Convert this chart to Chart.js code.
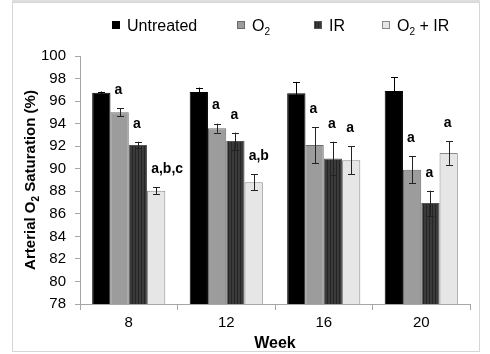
<!DOCTYPE html>
<html>
<head>
<meta charset="utf-8">
<script src="https://cdn.jsdelivr.net/npm/chart.js@4"></script>
<style>
  body { margin: 0; background: #fff; }
  canvas { display: block; }
</style>
</head>
<body>
<canvas id="grafico" width="490" height="354"></canvas>
<script>
// ---------------- Dados -------------------------------------------------------
const semanas = ["8", "12", "16", "20"];
const nomesSeries = ["Untreated", "O2", "IR", "O2 + IR"];

const untreated = [96.75, 96.8, 96.7, 96.9];
const o2 = [95.0, 93.6, 92.1, 89.9];
const ir = [92.1, 92.45, 90.9, 86.95];
const o2ir = [88.05, 88.8, 90.75, 91.4];

const untreatedErr = [0.1, 0.4, 1.0, 1.2];
const o2Err = [0.35, 0.4, 1.6, 1.2];
const irErr = [0.3, 0.75, 1.5, 1.1];
const o2irErr = [0.3, 0.7, 1.25, 1.05];

// letras de significância acima das barras
const untreatedSig = ["", "", "", ""];
const o2Sig = ["a", "a", "a", "a"];
const irSig = ["a", "a", "a", "a"];
const o2irSig = ["a,b,c", "a,b", "a", "a"];

const yMin = 78, yMax = 100, yStep = 2;
const tituloY = "Arterial O2 Saturation (%)";
const tituloX = "Week";

const fonte = "'Liberation Sans', Arial, sans-serif";

// ---------------- Padrão listrado (IR) ---------------------------------------
function padraoListras() {
    const c = document.createElement("canvas");
    c.width = 3; c.height = 3;
    const g = c.getContext("2d");
    g.fillStyle = "#3a3a3a";
    g.fillRect(0, 0, 3, 3);
    g.fillStyle = "#252525";
    g.fillRect(0, 0, 1, 3);
    return g.createPattern(c, "repeat");
}

// texto com "O2" subscrito
function medirRico(ctx, texto, tam, peso) {
    let w = 0;
    for (let i = 0; i < texto.length; i++) {
        const sub = texto[i] === "2" && texto[i - 1] === "O";
        ctx.font = `${peso} ${sub ? Math.round(tam * 0.65) : tam}px ${fonte}`;
        w += ctx.measureText(texto[i]).width;
    }
    return w;
}
function desenharRico(ctx, texto, x, y, tam, peso) {
    ctx.textAlign = "left";
    ctx.textBaseline = "alphabetic";
    for (let i = 0; i < texto.length; i++) {
        const sub = texto[i] === "2" && texto[i - 1] === "O";
        ctx.font = `${peso} ${sub ? Math.round(tam * 0.65) : tam}px ${fonte}`;
        ctx.fillText(texto[i], x, sub ? y + tam * 0.28 : y);
        x += ctx.measureText(texto[i]).width;
    }
}

const erros = [untreatedErr, o2Err, irErr, o2irErr];
const sigs = [untreatedSig, o2Sig, irSig, o2irSig];

// ---------------- Plugin: moldura, legenda, título Y, barras de erro ---------
const pluginExtras = {
    id: "extras",
    beforeDraw(chart) {
        const ctx = chart.ctx;
        ctx.save();
        ctx.fillStyle = "#fff";
        ctx.fillRect(0, 0, chart.width, chart.height);
        ctx.fillStyle = "#dedede";
        ctx.fillRect(12, 0, 468, 3);
        ctx.strokeStyle = "#d6d6d6";
        ctx.lineWidth = 1;
        ctx.strokeRect(12.5, 2.5, 467, 349);
        ctx.restore();
    },
    afterDatasetsDraw(chart) {
        const ctx = chart.ctx;
        const yScale = chart.scales.y;
        ctx.save();
        chart.data.datasets.forEach((ds, d) => {
            const meta = chart.getDatasetMeta(d);
            meta.data.forEach((bar, i) => {
                const v = ds.data[i], e = erros[d][i];
                const yTop = yScale.getPixelForValue(v + e);
                const yBot = yScale.getPixelForValue(v - e);
                const x = Math.round(bar.x) + 0.5;
                ctx.strokeStyle = d === 0 ? "#000" : "#222";
                ctx.lineWidth = 1;
                ctx.beginPath();
                ctx.moveTo(x, yTop); ctx.lineTo(x, yBot);
                ctx.moveTo(x - 3.5, Math.round(yTop) + 0.5); ctx.lineTo(x + 3.5, Math.round(yTop) + 0.5);
                ctx.moveTo(x - 3.5, Math.round(yBot) + 0.5); ctx.lineTo(x + 3.5, Math.round(yBot) + 0.5);
                ctx.stroke();

                const s = sigs[d][i];
                if (s) {
                    ctx.fillStyle = "#000";
                    ctx.font = `bold 14px ${fonte}`;
                    ctx.textAlign = "left";
                    ctx.textBaseline = "middle";
                    ctx.fillText(s, bar.x - 5, yTop - 18);
                }
            });
        });
        ctx.restore();
    },
    afterDraw(chart) {
        const ctx = chart.ctx;
        ctx.save();
        // legenda
        const caixasX = [112, 237, 314, 382];
        chart.data.datasets.forEach((ds, d) => {
            const bx = caixasX[d];
            ctx.fillStyle = ds.backgroundColor;
            ctx.fillRect(bx, 21, 8, 8);
            ctx.strokeStyle = ds.borderColor;
            ctx.lineWidth = 1;
            ctx.strokeRect(bx + 0.5, 21.5, 7, 7);
            ctx.fillStyle = "#000";
            desenharRico(ctx, ds.label, bx + 15, 31, 16, "normal");
        });
        // título do eixo Y
        const area = chart.chartArea;
        const w = medirRico(ctx, tituloY, 15, "bold");
        ctx.translate(35, (area.top + area.bottom) / 2);
        ctx.rotate(-Math.PI / 2);
        ctx.fillStyle = "#000";
        desenharRico(ctx, tituloY, -w / 2, 0, 15, "bold");
        ctx.restore();
    }
};

const eixoCor = "#a6a6a6";

new Chart(document.getElementById("grafico"), {
    type: "bar",
    data: {
        labels: semanas,
        datasets: [
            { label: nomesSeries[0], data: untreated, backgroundColor: "#000000", borderColor: "#000000" },
            { label: nomesSeries[1], data: o2, backgroundColor: "#9c9c9c", borderColor: "#6a6a6a" },
            { label: nomesSeries[2], data: ir, backgroundColor: padraoListras(), borderColor: "#555555" },
            { label: nomesSeries[3], data: o2ir, backgroundColor: "#e6e6e6", borderColor: "#8a8a8a" },
        ],
    },
    options: {
        responsive: false,
        animation: false,
        devicePixelRatio: 1,
        datasets: {
            bar: { categoryPercentage: 0.75, barPercentage: 1.0, borderWidth: 1, borderSkipped: "bottom" },
        },
        layout: { padding: { top: 56, right: 20, left: 0, bottom: 0 } },
        plugins: {
            legend: { display: false },
            tooltip: { enabled: false },
        },
        scales: {
            x: {
                afterFit(scale) { scale.height = 50; },
                border: { color: eixoCor },
                grid: { drawOnChartArea: false, tickLength: 6, color: eixoCor, offset: true },
                ticks: { color: "#000", padding: 4, font: { family: fonte, size: 15 } },
                title: {
                    display: true, text: tituloX, color: "#000",
                    font: { family: fonte, size: 16, weight: "bold" },
                    padding: { top: 0, bottom: 1 },
                },
            },
            y: {
                min: yMin, max: yMax,
                afterFit(scale) { scale.width = 80; },
                border: { color: eixoCor },
                grid: { drawOnChartArea: false, tickLength: 5, color: eixoCor },
                ticks: { stepSize: yStep, color: "#000", padding: 9, font: { family: fonte, size: 15 } },
            },
        },
    },
    plugins: [pluginExtras],
});
</script>
</body>
</html>
